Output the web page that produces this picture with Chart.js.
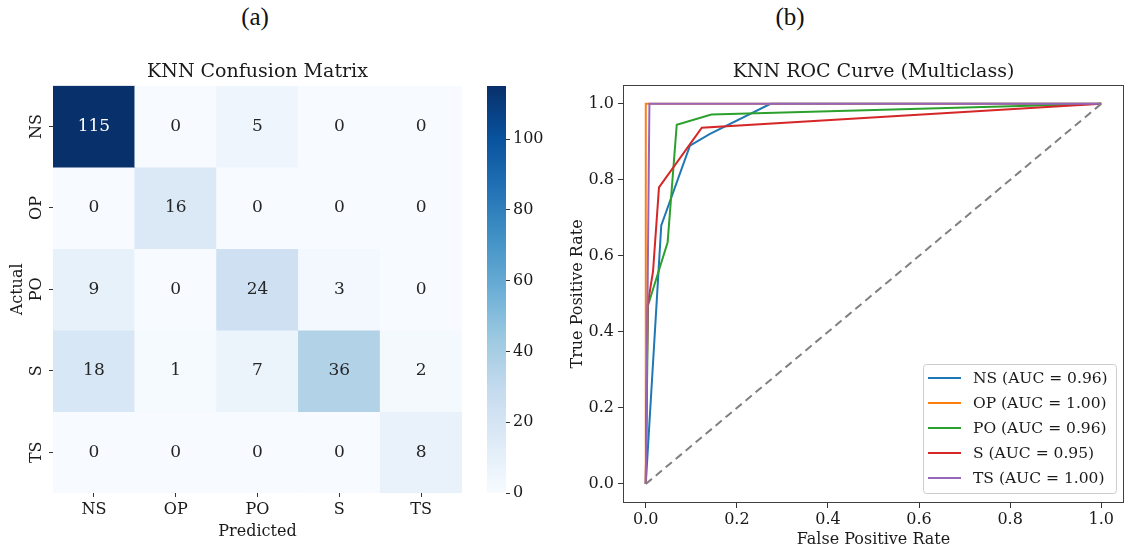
<!DOCTYPE html>
<html>
<head>
<meta charset="utf-8">
<title>KNN results</title>
<script src="https://cdn.jsdelivr.net/npm/chart.js@4.4.1/dist/chart.umd.min.js"></script>
<style>
  body { margin: 0; background: #fff; width: 1126px; height: 551px; position: relative; overflow: hidden; }
  canvas, .tag { position: absolute; }
  .tag { font-family: "Liberation Serif", serif; font-size: 25px; top: 3px; width: 60px; text-align: center; color: #111; }
</style>
</head>
<body>
<div class="tag" style="left:225px">(a)</div>
<div class="tag" style="left:760px">(b)</div>
<canvas id="cm" width="470" height="496" style="left:0;top:55px"></canvas>
<canvas id="cbar" width="80" height="496" style="left:470px;top:55px"></canvas>
<canvas id="roc" width="566" height="496" style="left:560px;top:55px"></canvas>
<script>
// class names, used on both panels
let classNames = ['NS', 'OP', 'PO', 'S', 'TS'];

// confusion matrix rows (actual), columns = predicted
let rowNS = [115, 0, 5, 0, 0];
let rowOP = [0, 16, 0, 0, 0];
let rowPO = [9, 0, 24, 3, 0];
let rowS = [18, 1, 7, 36, 2];
let rowTS = [0, 0, 0, 0, 8];
let cmRows = [rowNS, rowOP, rowPO, rowS, rowTS];
let cmMax = 115;
let cbarTicks = [0, 20, 40, 60, 80, 100];

// roc curves, [fpr, tpr]
let rocNS = [[0, 0], [0.034, 0.68], [0.097, 0.89], [0.14, 0.92], [0.274, 1], [1, 1]];
let rocOP = [[0, 0], [0, 1], [1, 1]];
let rocPO = [[0, 0], [0.005, 0.47], [0.048, 0.636], [0.068, 0.945], [0.144, 0.972], [1, 1]];
let rocS = [[0, 0], [0.004, 0.47], [0.016, 0.56], [0.029, 0.78], [0.123, 0.937], [1, 1]];
let rocTS = [[0, 0], [0.008, 1], [1, 1]];
let chanceLine = [[0, 0], [1, 1]];
let aucValues = ['0.96', '1.00', '0.96', '0.95', '1.00'];
let rateTicks = [0, 0.2, 0.4, 0.6, 0.8, 1.0];

let serif = '"DejaVu Serif", serif';
let ink = '#1a1a1a';
Chart.defaults.font.family = serif;
Chart.defaults.color = ink;

// matplotlib "Blues"
let bluesStops = ['#f7fbff', '#deebf7', '#c6dbef', '#9ecae1', '#6baed6', '#4292c6', '#2171b5', '#08519c', '#08306b'];
function hexToRgb(h) {
  return [1, 3, 5].map(i => parseInt(h.slice(i, i + 2), 16));
}
function blues(t) {
  t = Math.max(0, Math.min(1, t));
  let pos = t * (bluesStops.length - 1);
  let i = Math.min(Math.floor(pos), bluesStops.length - 2);
  let f = pos - i;
  let a = hexToRgb(bluesStops[i]);
  let b = hexToRgb(bluesStops[i + 1]);
  let c = a.map((v, k) => Math.round(v + (b[k] - v) * f));
  return `rgb(${c[0]}, ${c[1]}, ${c[2]})`;
}

// ---------- (a) heatmap as stacked unit bars ----------
let cmDatasets = cmRows.map((row, r) => ({
  label: classNames[r],
  data: row.map(() => 1),
  backgroundColor: row.map(v => blues(v / cmMax)),
  borderWidth: 0,
  barPercentage: 1,
  categoryPercentage: 1
}));

let cellText = {
  id: 'cellText',
  afterDatasetsDraw(chart) {
    let ctx = chart.ctx;
    ctx.save();
    ctx.font = '17px ' + serif;
    ctx.textAlign = 'center';
    ctx.textBaseline = 'middle';
    chart.data.datasets.forEach((ds, r) => {
      chart.getDatasetMeta(r).data.forEach((bar, c) => {
        let v = cmRows[r][c];
        ctx.fillStyle = v / cmMax > 0.6 ? '#ffffff' : '#262626';
        ctx.fillText(String(v), bar.x, (bar.y + bar.base) / 2);
      });
    });
    ctx.restore();
  }
};

new Chart(document.getElementById('cm'), {
  type: 'bar',
  data: { labels: classNames, datasets: cmDatasets },
  options: {
    responsive: false,
    animation: false,
    layout: { padding: { left: 0, right: 8, top: 0, bottom: 0 } },
    plugins: {
      legend: { display: false },
      tooltip: { enabled: false },
      title: {
        display: true,
        fullSize: false,
        text: 'KNN Confusion Matrix',
        color: ink,
        font: { size: 19, weight: 'normal' },
        padding: { top: 6, bottom: 2 }
      }
    },
    scales: {
      x: {
        stacked: true,
        grid: { display: true, drawOnChartArea: false, offset: false, tickLength: 4, tickColor: '#333' },
        border: { display: false },
        ticks: { font: { size: 16 }, padding: 3 },
        title: { display: true, text: 'Predicted', font: { size: 16 }, padding: { top: 0, bottom: 10 } },
        afterFit(s) { s.height = 58; }
      },
      y: {
        stacked: true,
        reverse: true,
        min: 0,
        max: 5,
        afterBuildTicks(s) { s.ticks = classNames.map((n, i) => ({ value: i + 0.5 })); },
        grid: { display: true, drawOnChartArea: false, tickLength: 4, tickColor: '#333' },
        border: { display: false },
        ticks: {
          font: { size: 16 },
          padding: 0,
          minRotation: 90,
          maxRotation: 90,
          crossAlign: 'center',
          callback: v => classNames[Math.floor(v)]
        },
        title: { display: true, text: 'Actual', font: { size: 16 }, padding: { top: 8, bottom: 0 } },
        afterFit(s) { s.width = 53; }
      }
    }
  },
  plugins: [cellText]
});

// colour bar
new Chart(document.getElementById('cbar'), {
  type: 'bar',
  data: {
    labels: ['count'],
    datasets: [{
      data: [[0, cmMax]],
      borderWidth: 0,
      barPercentage: 1,
      categoryPercentage: 1,
      backgroundColor(c) {
        let area = c.chart.chartArea;
        if (!area) return bluesStops[0];
        let g = c.chart.ctx.createLinearGradient(0, area.bottom, 0, area.top);
        bluesStops.forEach((col, i) => g.addColorStop(i / (bluesStops.length - 1), col));
        return g;
      }
    }]
  },
  options: {
    responsive: false,
    animation: false,
    layout: { padding: { left: 17, right: 0, top: 31, bottom: 58 } },
    plugins: { legend: { display: false }, tooltip: { enabled: false } },
    scales: {
      x: { display: false },
      y: {
        position: 'right',
        min: 0,
        max: cmMax,
        afterBuildTicks(s) { s.ticks = cbarTicks.map(v => ({ value: v })); },
        grid: { display: true, drawOnChartArea: false, tickLength: 4, tickColor: '#333' },
        border: { display: false },
        ticks: { font: { size: 16 }, padding: 3 },
        afterFit(s) { s.width = 44; }
      }
    }
  }
});

// ---------- (b) ROC curves ----------
let rocCurves = [rocNS, rocOP, rocPO, rocS, rocTS];
let rocColors = ['#1f77b4', '#ff7f0e', '#2ca02c', '#d62728', '#9467bd'];

let rocDatasets = rocCurves.map((pts, i) => ({
  label: `${classNames[i]} (AUC = ${aucValues[i]})`,
  inLegend: true,
  data: pts.map(p => ({ x: p[0], y: p[1] })),
  borderColor: rocColors[i],
  backgroundColor: rocColors[i],
  borderWidth: 2,
  pointRadius: 0,
  tension: 0,
  fill: false,
  order: 6 - i
}));
rocDatasets.push({
  label: 'chance',
  inLegend: false,
  data: chanceLine.map(p => ({ x: p[0], y: p[1] })),
  borderColor: '#808080',
  borderDash: [8, 5],
  borderWidth: 2,
  pointRadius: 0,
  fill: false,
  order: 0
});

let axesFrame = {
  id: 'axesFrame',
  afterDatasetsDraw(chart) {
    let a = chart.chartArea;
    let ctx = chart.ctx;
    ctx.save();
    ctx.strokeStyle = '#404040';
    ctx.lineWidth = 1;
    ctx.strokeRect(Math.round(a.left) + 0.5, Math.round(a.top) + 0.5, Math.round(a.width) - 1, Math.round(a.height) - 1);
    ctx.restore();
  }
};

let rocLegend = {
  id: 'rocLegend',
  afterDraw(chart) {
    let ctx = chart.ctx;
    let a = chart.chartArea;
    let items = chart.data.datasets.filter(d => d.inLegend);
    let w = 193, h = 129;
    let x0 = a.right - 8 - w, y0 = a.bottom - 10 - h;
    ctx.save();
    ctx.fillStyle = 'rgba(255,255,255,0.85)';
    ctx.strokeStyle = '#cccccc';
    ctx.lineWidth = 1;
    ctx.beginPath();
    ctx.roundRect(x0 + 0.5, y0 + 0.5, w, h, 3);
    ctx.fill();
    ctx.stroke();
    ctx.font = '15.5px ' + serif;
    ctx.textBaseline = 'middle';
    ctx.fillStyle = ink;
    items.forEach((d, i) => {
      let y = y0 + 14 + i * 25;
      ctx.strokeStyle = d.borderColor;
      ctx.lineWidth = 2;
      ctx.beginPath();
      ctx.moveTo(x0 + 5, y);
      ctx.lineTo(x0 + 38, y);
      ctx.stroke();
      ctx.fillText(d.label, x0 + 50, y + 1);
    });
    ctx.restore();
  }
};

let rateAxis = (titleText) => ({
  type: 'linear',
  min: -0.05,
  max: 1.05,
  afterBuildTicks(s) { s.ticks = rateTicks.map(v => ({ value: v })); },
  grid: { display: true, drawOnChartArea: false, tickLength: 5, tickColor: '#333' },
  border: { display: false },
  ticks: { font: { size: 16 }, callback: v => v.toFixed(1) },
  title: { display: true, text: titleText, font: { size: 16 } }
});

let xAxis = rateAxis('False Positive Rate');
xAxis.ticks.padding = 2;
xAxis.title.padding = { top: 0, bottom: 2 };
xAxis.afterFit = s => { s.height = 48; };

let yAxis = rateAxis('True Positive Rate');
yAxis.ticks.padding = 4;
yAxis.title.padding = { top: 8, bottom: 0 };
yAxis.afterFit = s => { s.width = 63; };

new Chart(document.getElementById('roc'), {
  type: 'line',
  data: { datasets: rocDatasets },
  options: {
    responsive: false,
    animation: false,
    layout: { padding: { left: 0, right: 2, top: 0, bottom: 0 } },
    plugins: {
      legend: { display: false },
      tooltip: { enabled: false },
      title: {
        display: true,
        fullSize: false,
        text: 'KNN ROC Curve (Multiclass)',
        color: ink,
        font: { size: 19, weight: 'normal' },
        padding: { top: 6, bottom: 1 }
      }
    },
    scales: { x: xAxis, y: yAxis }
  },
  plugins: [axesFrame, rocLegend]
});
</script>
</body>
</html>
